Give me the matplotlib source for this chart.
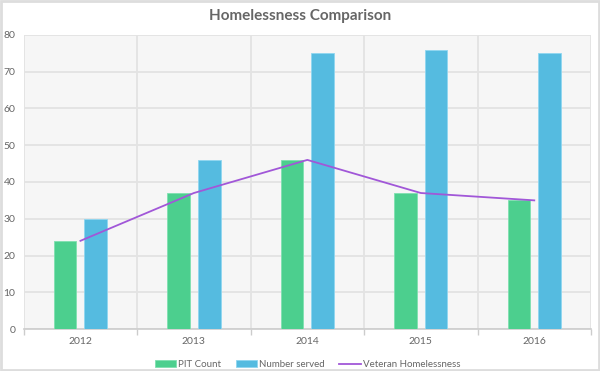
import matplotlib
matplotlib.use('Agg')
import matplotlib.pyplot as plt
import numpy as np
from matplotlib.patches import Rectangle

years = ['2012', '2013', '2014', '2015', '2016']
pit_count = [24, 37, 46, 37, 35]
number_served = [30, 46, 75, 76, 75]
veteran = [24, 37, 46, 37, 35]

c_green = '#4ccf8e'
c_blue = '#55bbe0'
c_purple = '#a157d8'
c_text = '#666666'

plt.rcParams['font.family'] = ['Lato', 'DejaVu Sans']

fig = plt.figure(figsize=[6.0, 3.71], dpi=100)
ax = fig.add_axes([0.0395, 0.113, 0.9455, 0.793])

x = np.arange(len(years))
bw = 0.2
b1 = ax.bar(x - 0.135, pit_count, bw, color=c_green, edgecolor='#7fe0b0', linewidth=0.6,
            label='PIT Count', zorder=3)
b2 = ax.bar(x + 0.135, number_served, bw, color=c_blue, edgecolor='#8fd6f0', linewidth=0.6,
            label='Number served', zorder=3)
l1, = ax.plot(x, veteran, color=c_purple, linewidth=1.3, label='Veteran Homelessness', zorder=4)

ax.set_xlim(-0.5, len(years) - 0.5)
ax.set_ylim(0, 80)
ax.set_yticks(range(0, 81, 10))
ax.set_xticks(x)
ax.set_xticklabels(years)
ax.set_xticks(np.arange(-0.5, len(years)), minor=True)
ax.set_facecolor('#f6f6f6')

ax.grid(axis='y', color='#e3e3e3', linewidth=1.3, zorder=1)
ax.grid(axis='x', which='minor', color='#e3e3e3', linewidth=1.3, zorder=1)
ax.tick_params(axis='x', which='major', length=0, labelsize=7.5, colors=c_text, pad=6)
ax.tick_params(axis='x', which='minor', length=4, color='#cccccc', width=1)
ax.tick_params(axis='y', length=0, labelsize=7.5, colors=c_text, pad=6)
for s in ['top', 'right', 'left']:
    ax.spines[s].set_visible(False)
ax.spines['bottom'].set_color('#cccccc')
ax.spines['bottom'].set_linewidth(1.2)

fig.suptitle('Homelessness Comparison', x=0.5, y=0.975, fontsize=11, fontweight='bold',
             color=c_text)

ax.legend([b1, b2, l1], ['PIT Count', 'Number served', 'Veteran Homelessness'],
          loc='upper center', bbox_to_anchor=(0.5, -0.075), ncol=3, frameon=False,
          fontsize=7, labelcolor=c_text, handlelength=2.2, handleheight=0.6,
          handletextpad=0.2, columnspacing=1.5)

fig.patches.append(Rectangle((0.002, 0.003), 0.996, 0.994, transform=fig.transFigure,
                             fill=False, edgecolor='#dddddd', linewidth=2))

plt.savefig('out.png', dpi=100)
